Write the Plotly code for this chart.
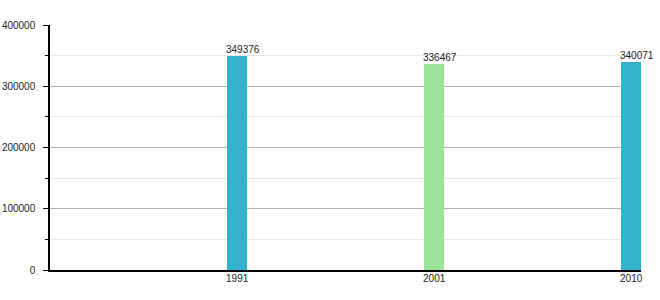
import plotly.graph_objects as go

years = ["1991", "2001", "2010"]
population = [349376, 336467, 340071]
bar_colors = ["#33b2cc", "#9ae59a", "#33b2cc"]
y_ticks = [0, 100000, 200000, 300000, 400000]

fig = go.Figure()
fig.add_trace(
    go.Bar(
        x=years,
        y=population,
        marker=dict(color=bar_colors, line=dict(width=0)),
        width=0.1,
        hoverinfo="x+y",
    )
)

# category axes position annotations by category index
for idx, val in enumerate(population):
    fig.add_annotation(
        x=idx,
        y=val,
        xref="x",
        yref="y",
        text=str(val),
        showarrow=False,
        xanchor="left",
        yanchor="bottom",
        xshift=-12,
        yshift=0,
        font=dict(size=10, color="#222"),
        borderpad=0,
    )

fig.update_layout(
    width=660,
    height=300,
    margin=dict(l=50, r=19, t=25, b=30, autoexpand=False),
    paper_bgcolor="white",
    plot_bgcolor="white",
    font=dict(family="Liberation Sans, Arial, sans-serif", size=10, color="#222"),
    showlegend=False,
    bargap=0,
)

fig.update_xaxes(
    type="category",
    range=[-0.95, 2.05],
    automargin=False,
    showline=True,
    linecolor="black",
    linewidth=1.5,
    showgrid=False,
    ticks="",
    ticklabelstandoff=-2,
    tickfont=dict(size=10),
)

fig.update_yaxes(
    range=[0, 400000],
    automargin=False,
    tickvals=y_ticks,
    ticktext=[str(v) for v in y_ticks],
    tickfont=dict(size=10),
    showline=True,
    linecolor="black",
    linewidth=1.5,
    showgrid=True,
    gridcolor="#b0b0b0",
    gridwidth=1,
    ticks="outside",
    ticklen=5,
    tickcolor="black",
    ticklabelstandoff=6,
    zeroline=False,
    minor=dict(
        dtick=50000,
        showgrid=True,
        gridcolor="#e6e6e6",
        gridwidth=1,
        ticks="outside",
        ticklen=3,
        tickcolor="black",
    ),
)

fig.write_html("out.html")
